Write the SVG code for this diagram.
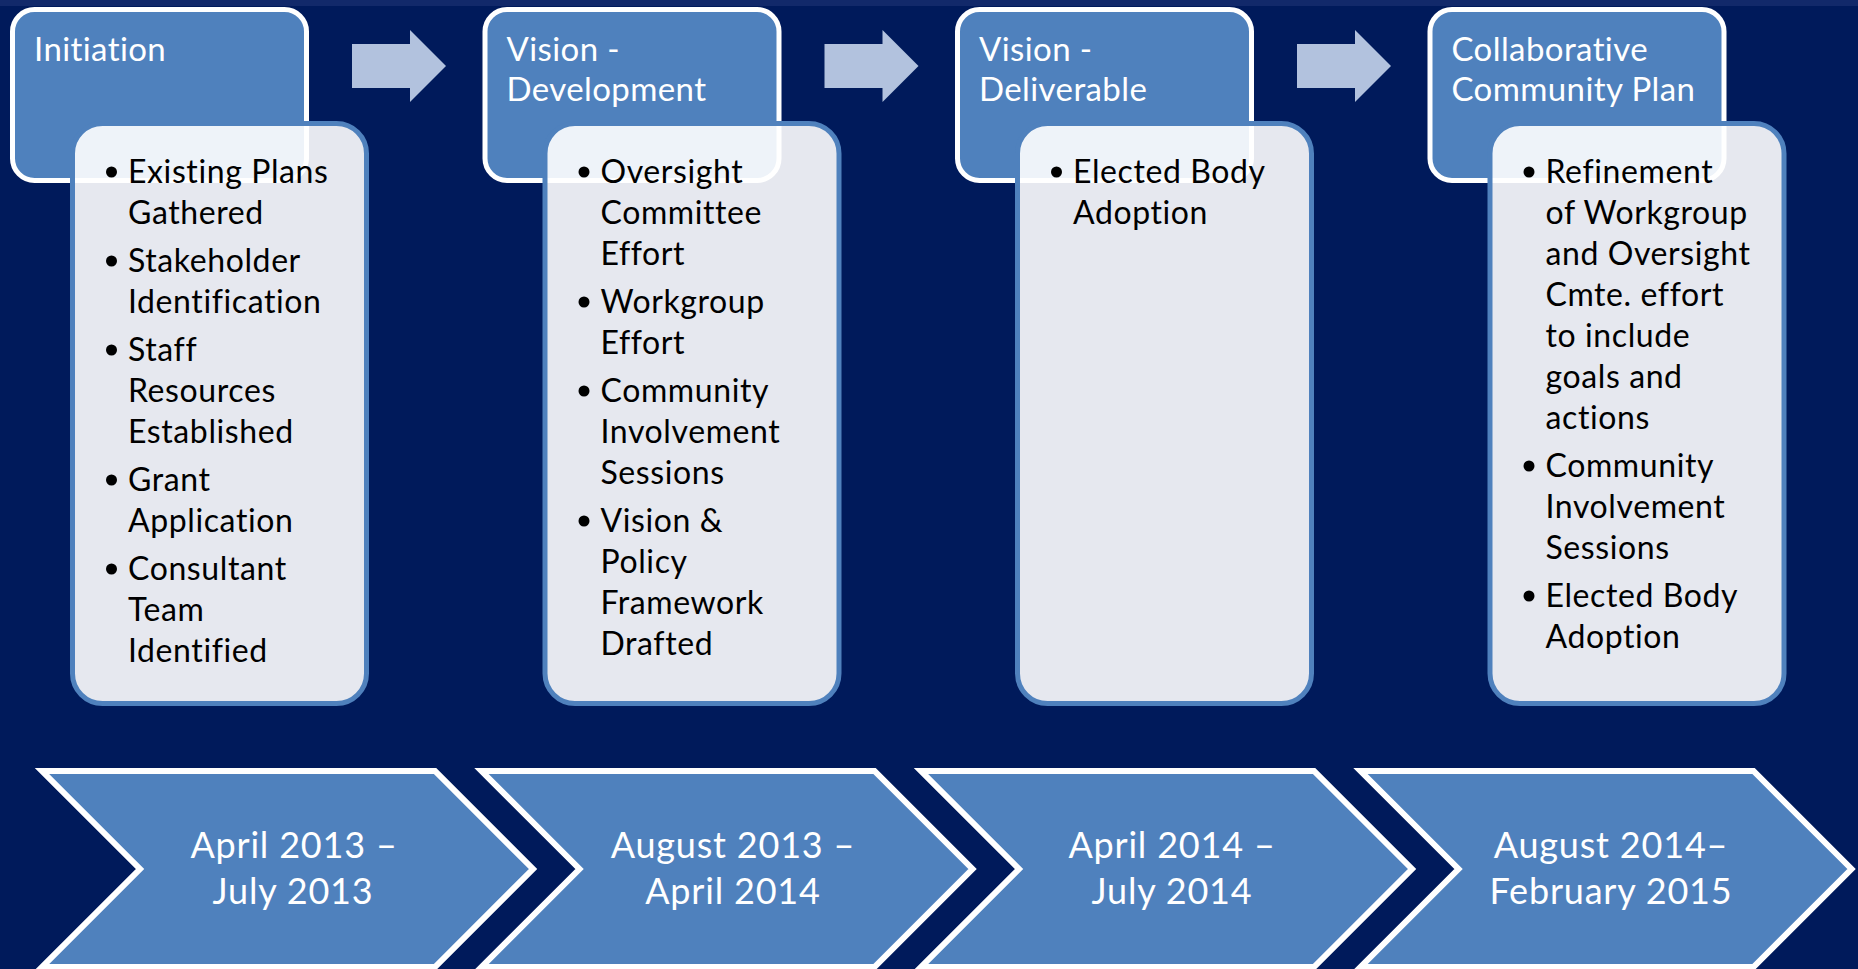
<svg xmlns="http://www.w3.org/2000/svg" width="1858" height="969" viewBox="0 0 1858 969">
<style>
.hdr{fill:#4F81BD;stroke:#FFFFFF;stroke-width:5}
.body{fill:#FFFFFF;fill-opacity:0.9;stroke:#4F81BD;stroke-width:5}
.arrow{fill:#B2C2DE}
.chev{fill:#4F81BD;stroke:#FFFFFF;stroke-width:6;stroke-linejoin:miter}
.ht{font-family:Lato,"Liberation Sans",sans-serif;font-size:33px;letter-spacing:0.4px;fill:#FFFFFF}
.bt{font-family:Lato,"Liberation Sans",sans-serif;font-size:32px;letter-spacing:0.6px;fill:#000000}
.dt{font-family:Lato,"Liberation Sans",sans-serif;font-size:36px;letter-spacing:0.8px;fill:#FFFFFF;text-anchor:middle}
.bul{fill:#000000}
</style>
<defs>
<polygon id="chevShape" points="0,771 393,771 491,869 393,967 0,967 98,869"/>
<polygon id="arrowShape" points="352,44 410,44 410,30 446,66 410,102 410,88 352,88"/>
</defs>
<rect x="0" y="0" width="1858" height="969" fill="#001A5B"/>
<rect x="0" y="0" width="1858" height="6" fill="#12296A"/>

<g id="connectors">
<use href="#arrowShape" class="arrow"/>
<use href="#arrowShape" class="arrow" transform="translate(472.5,0)"/>
<use href="#arrowShape" class="arrow" transform="translate(945,0)"/>
</g>

<g id="phase1">
<rect class="hdr" x="12.5" y="9.5" width="294" height="171" rx="22"/>
<text class="ht" x="34" y="61">Initiation</text>
<rect class="body" x="72.5" y="123.5" width="294" height="580" rx="30"/>
<g class="bt">
<circle class="bul" cx="111.5" cy="172" r="5.5"/><text x="128" y="183">Existing Plans</text>
<text x="128" y="224">Gathered</text>
<circle class="bul" cx="111.5" cy="261" r="5.5"/><text x="128" y="272">Stakeholder</text>
<text x="128" y="313">Identification</text>
<circle class="bul" cx="111.5" cy="350" r="5.5"/><text x="128" y="361">Staff</text>
<text x="128" y="402">Resources</text>
<text x="128" y="443">Established</text>
<circle class="bul" cx="111.5" cy="480" r="5.5"/><text x="128" y="491">Grant</text>
<text x="128" y="532">Application</text>
<circle class="bul" cx="111.5" cy="569" r="5.5"/><text x="128" y="580">Consultant</text>
<text x="128" y="621">Team</text>
<text x="128" y="662">Identified</text>
</g>
</g>

<g id="phase2">
<rect class="hdr" x="485" y="9.5" width="294" height="171" rx="22"/>
<text class="ht" x="506.5" y="61">Vision -</text>
<text class="ht" x="506.5" y="101">Development</text>
<rect class="body" x="545" y="123.5" width="294" height="580" rx="30"/>
<g class="bt">
<circle class="bul" cx="584" cy="172" r="5.5"/><text x="600.5" y="183">Oversight</text>
<text x="600.5" y="224">Committee</text>
<text x="600.5" y="265">Effort</text>
<circle class="bul" cx="584" cy="302" r="5.5"/><text x="600.5" y="313">Workgroup</text>
<text x="600.5" y="354">Effort</text>
<circle class="bul" cx="584" cy="391" r="5.5"/><text x="600.5" y="402">Community</text>
<text x="600.5" y="443">Involvement</text>
<text x="600.5" y="484">Sessions</text>
<circle class="bul" cx="584" cy="521" r="5.5"/><text x="600.5" y="532">Vision &amp;</text>
<text x="600.5" y="573">Policy</text>
<text x="600.5" y="614">Framework</text>
<text x="600.5" y="655">Drafted</text>
</g>
</g>

<g id="phase3">
<rect class="hdr" x="957.5" y="9.5" width="294" height="171" rx="22"/>
<text class="ht" x="979" y="61">Vision -</text>
<text class="ht" x="979" y="101">Deliverable</text>
<rect class="body" x="1017.5" y="123.5" width="294" height="580" rx="30"/>
<g class="bt">
<circle class="bul" cx="1056.5" cy="172" r="5.5"/><text x="1073" y="183">Elected Body</text>
<text x="1073" y="224">Adoption</text>
</g>
</g>

<g id="phase4">
<rect class="hdr" x="1430" y="9.5" width="294" height="171" rx="22"/>
<text class="ht" x="1451.5" y="61">Collaborative</text>
<text class="ht" x="1451.5" y="101">Community Plan</text>
<rect class="body" x="1490" y="123.5" width="294" height="580" rx="30"/>
<g class="bt">
<circle class="bul" cx="1529" cy="172" r="5.5"/><text x="1545.5" y="183">Refinement</text>
<text x="1545.5" y="224">of Workgroup</text>
<text x="1545.5" y="265">and Oversight</text>
<text x="1545.5" y="306">Cmte. effort</text>
<text x="1545.5" y="347">to include</text>
<text x="1545.5" y="388">goals and</text>
<text x="1545.5" y="429">actions</text>
<circle class="bul" cx="1529" cy="466" r="5.5"/><text x="1545.5" y="477">Community</text>
<text x="1545.5" y="518">Involvement</text>
<text x="1545.5" y="559">Sessions</text>
<circle class="bul" cx="1529" cy="596" r="5.5"/><text x="1545.5" y="607">Elected Body</text>
<text x="1545.5" y="648">Adoption</text>
</g>
</g>

<g id="date1">
<use href="#chevShape" class="chev" transform="translate(42,0)"/>
<text class="dt" x="294" y="858">April 2013 –</text>
<text class="dt" x="293" y="904">July 2013</text>
</g>
<g id="date2">
<use href="#chevShape" class="chev" transform="translate(481.5,0)"/>
<text class="dt" x="733" y="858">August 2013 –</text>
<text class="dt" x="733" y="904">April 2014</text>
</g>
<g id="date3">
<use href="#chevShape" class="chev" transform="translate(921,0)"/>
<text class="dt" x="1172" y="858">April 2014 –</text>
<text class="dt" x="1172" y="904">July 2014</text>
</g>
<g id="date4">
<use href="#chevShape" class="chev" transform="translate(1360.5,0)"/>
<text class="dt" x="1611" y="858">August 2014–</text>
<text class="dt" x="1611" y="904">February 2015</text>
</g>
</svg>
